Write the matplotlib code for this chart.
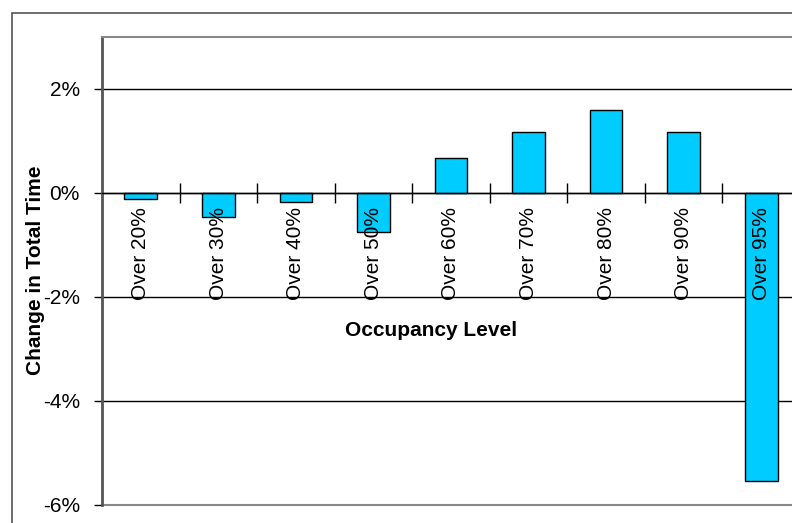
import numpy as np
import matplotlib.pyplot as plt
from matplotlib.patches import Rectangle

plt.rcParams['font.family'] = ['Liberation Sans', 'DejaVu Sans']

# data (percent change in total time)
levels = ['Over 20%', 'Over 30%', 'Over 40%', 'Over 50%', 'Over 60%',
          'Over 70%', 'Over 80%', 'Over 90%', 'Over 95%']
change = [-0.12, -0.46, -0.17, -0.75, 0.68, 1.18, 1.59, 1.18, -5.53]
yticks = [-6, -4, -2, 0, 2]

W, H = 792, 523
fig = plt.figure(figsize=(W / 100, H / 100), dpi=100)

# outer chart border (cut off at right / bottom like the original)
fig.add_artist(Rectangle((12 / W, -0.2), 1.2, 1 - 13 / H + 0.2,
                         transform=fig.transFigure, fill=False,
                         edgecolor='#555555', linewidth=1.2))

ax = fig.add_axes([102 / W, 1 - 505 / H, (800 - 102) / W, (505 - 37) / H])
x = np.arange(len(levels))
ax.bar(x, change, width=0.42, color='#00CCFF', edgecolor='black',
       linewidth=1.0, zorder=3)

ax.set_xlim(-0.5, len(levels) - 0.5)
ax.set_ylim(-6, 3)
ax.set_yticks(yticks)
ax.set_yticklabels(['{:d}%'.format(v) for v in yticks], fontsize=15)
ax.tick_params(axis='y', length=6, width=1, pad=10, color='black')

# gridlines
for v in yticks[1:]:
    ax.axhline(v, color='black', linewidth=1.0, zorder=1)
ax.axhline(-6, color='#888888', linewidth=1.5, zorder=1, clip_on=False)

# category axis sits at zero
ax.spines['bottom'].set_position(('data', 0))
ax.spines['bottom'].set_color('black')
ax.spines['bottom'].set_linewidth(1.0)
ax.spines['bottom'].set_zorder(4)
ax.set_xticks(x[:-1] + 0.5)
ax.set_xticklabels([])
ax.tick_params(axis='x', direction='inout', length=14, width=1, color='black')
ax.spines['top'].set_color('#888888')
ax.spines['top'].set_linewidth(1.5)
ax.spines['right'].set_visible(False)
ax.spines['left'].set_color('#555555')
ax.spines['left'].set_linewidth(2.0)

for i, lab in enumerate(levels):
    ax.annotate(lab, (i, 0), xytext=(0, -10), textcoords='offset points',
                rotation=90, ha='center', va='top', fontsize=15, zorder=5)

fig.text(431 / W, 1 - 331 / H, 'Occupancy Level', ha='center', va='center',
         fontsize=15, fontweight='bold')
fig.text(36 / W, 1 - 270 / H, 'Change in Total Time', ha='center', va='center',
         rotation=90, fontsize=15, fontweight='bold')

fig.savefig('out.png', dpi=100)
